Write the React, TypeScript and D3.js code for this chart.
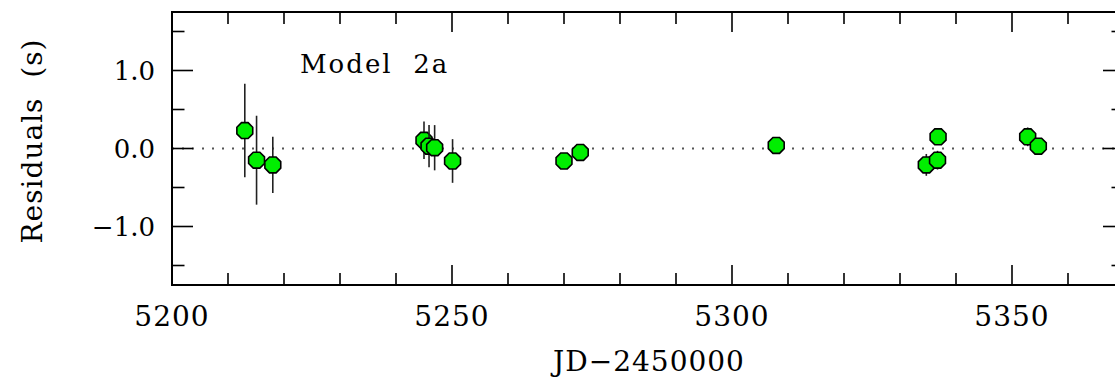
import React from 'react';
import * as d3 from 'd3';

// residuals vs JD-2450000
const jd = [5213.0, 5215.1, 5218.0, 5245.0, 5245.9, 5246.9, 5250.1, 5270.0, 5272.9, 5307.9, 5334.7, 5336.7, 5336.8, 5352.8, 5354.7];
const resid = [0.23, -0.15, -0.21, 0.105, 0.03, 0.01, -0.16, -0.16, -0.05, 0.04, -0.21, -0.15, 0.15, 0.15, 0.03];
const errs = [0.6, 0.57, 0.36, 0.24, 0.27, 0.29, 0.28, 0.06, 0.06, 0.05, 0.14, 0.12, 0.1, 0.12, 0.06];

const xMajor = [5200, 5250, 5300, 5350];
const yMajor = [-1, 0, 1];
const yLabels = ['\u22121.0', '0.0', '1.0'];

const W = 1115;
const H = 377;
const margin = { left: 172, top: 12, right: 1124, bottom: 285 };

const App = () => {
    const x = d3.scaleLinear().domain([5200, 5370]).range([margin.left, margin.right]);
    const y = d3.scaleLinear().domain([-1.75, 1.75]).range([margin.bottom, margin.top]);

    const xMinor = d3.range(5200, 5371, 10);
    const yMinor = d3.range(-1.5, 1.51, 0.5);

    // octagon with flat top
    const r = 8.6;
    const octagon = d3.line()(
        d3.range(8).map(i => {
            const a = Math.PI / 8 + (i * Math.PI) / 4;
            return [r * Math.cos(a), r * Math.sin(a)] as [number, number];
        })
    ) + 'Z';

    const font = '"DejaVu Serif", serif';

    return (
        <svg width={W} height={H} style={{ position: 'absolute', left: 0, top: 0 }}>
            <rect x={0} y={0} width={W} height={H} fill="#fff" />

            {/* zero line */}
            <line x1={x(5200)} x2={x(5370)} y1={y(0)} y2={y(0)}
                stroke="#555" strokeWidth={2} strokeDasharray="2 8" />

            {/* ticks */}
            {xMinor.map(v => {
                const len = v % 50 === 0 ? 20 : 12;
                return (
                    <g key={'xt' + v} stroke="#000" strokeWidth={1.6}>
                        <line x1={x(v)} x2={x(v)} y1={margin.bottom} y2={margin.bottom - len} />
                        <line x1={x(v)} x2={x(v)} y1={margin.top} y2={margin.top + len} />
                    </g>
                );
            })}
            {yMinor.map(v => {
                const len = Math.abs(v % 1) < 0.01 ? 21 : 12.5;
                return (
                    <g key={'yt' + v} stroke="#000" strokeWidth={1.6}>
                        <line x1={margin.left} x2={margin.left + len} y1={y(v)} y2={y(v)} />
                        <line x1={margin.right} x2={margin.right - len} y1={y(v)} y2={y(v)} />
                    </g>
                );
            })}

            {/* frame */}
            <rect x={margin.left} y={margin.top} width={margin.right - margin.left}
                height={margin.bottom - margin.top} fill="none" stroke="#000" strokeWidth={2} />

            {/* points */}
            {jd.map((d, i) => (
                <g key={'p' + i}>
                    <line x1={x(d)} x2={x(d)} y1={y(resid[i] - errs[i])} y2={y(resid[i] + errs[i])}
                        stroke="#222" strokeWidth={1.6} />
                    <path d={octagon} transform={`translate(${x(d)},${y(resid[i])})`}
                        fill="#00ee00" stroke="#000" strokeWidth={1.6} />
                </g>
            ))}

            {/* tick labels */}
            {xMajor.map(v => (
                <text key={'xl' + v} x={x(v)} y={326} textAnchor="middle"
                    fontFamily={font} fontSize={28} letterSpacing={1}>{v}</text>
            ))}
            {yMajor.map((v, i) => (
                <text key={'yl' + v} x={155} y={y(v) + 9.5} textAnchor="end"
                    fontFamily={font} fontSize={26}>{yLabels[i]}</text>
            ))}

            <text x={300} y={73} fontFamily={font} fontSize={26} letterSpacing={2}
                style={{ whiteSpace: 'pre' }}>{'Model  2a'}</text>

            <text x={649} y={371} textAnchor="middle" fontFamily={font} fontSize={28}
                letterSpacing={1}>JD{'\u2212'}2450000</text>
            <text transform={`translate(42,${141}) rotate(-90)`} textAnchor="middle"
                fontFamily={font} fontSize={28} letterSpacing={1}
                style={{ whiteSpace: 'pre' }}>{'Residuals  (s)'}</text>
        </svg>
    );
};

export default App;
